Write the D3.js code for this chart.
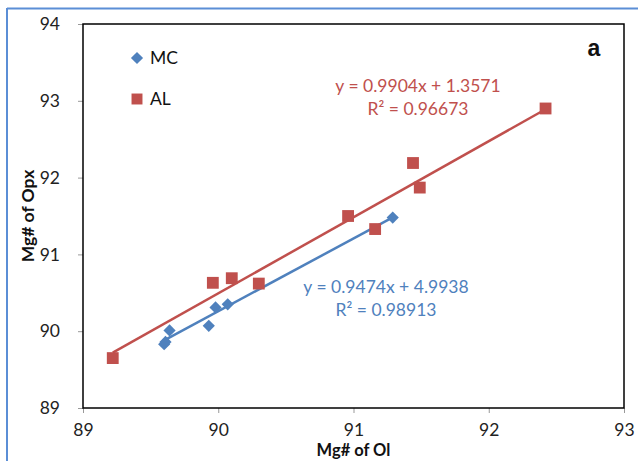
<!DOCTYPE html>
<html>
<head>
<meta charset="utf-8">
<script src="https://cdn.jsdelivr.net/npm/d3@7"></script>
<style>
  html, body { margin: 0; padding: 0; background: #fff; }
  svg { display: block; }
  text { font-family: Lato, "Liberation Sans", sans-serif; }
</style>
</head>
<body>
<svg id="chart" width="638" height="461"></svg>
<script>
// ---- data ----
const seriesNames = ["MC", "AL"];
const mcOl  = [89.60, 89.61, 89.64, 89.93, 89.98, 90.07, 91.29];
const mcOpx = [89.83, 89.86, 90.01, 90.07, 90.31, 90.35, 91.48];
const alOl  = [89.22, 89.96, 90.10, 90.30, 90.96, 91.16, 91.44, 91.49, 92.42];
const alOpx = [89.65, 90.63, 90.69, 90.62, 91.50, 91.33, 92.19, 91.87, 92.90];
const mcFit = [0.9474, 4.9938]; // slope, intercept
const alFit = [0.9904, 1.3571];
const mcEq = ["y = 0.9474x + 4.9938", "R² = 0.98913"];
const alEq = ["y = 0.9904x + 1.3571", "R² = 0.96673"];
const xTicks = [89, 90, 91, 92, 93];
const yTicks = [89, 90, 91, 92, 93, 94];
const xTitle = "Mg# of Ol";
const yTitle = "Mg# of Opx";
const panelLabel = "a";

const colors = { MC: "#4F81BD", AL: "#C0504D" };

const W = 638, H = 461;
const margin = { left: 83, top: 24, right: 14, bottom: 53 };
const svg = d3.select("#chart");

// outer frame
svg.append("line").attr("x1", 7).attr("x2", W).attr("y1", 8.5).attr("y2", 8.5)
  .attr("stroke", "#5b8ed6").attr("stroke-width", 2);
svg.append("line").attr("x1", 7).attr("x2", 7).attr("y1", 8).attr("y2", H)
  .attr("stroke", "#5b8ed6").attr("stroke-width", 2);

const x = d3.scaleLinear().domain([89, 93]).range([margin.left, W - margin.right]);
const y = d3.scaleLinear().domain([89, 94]).range([H - margin.bottom, margin.top]);

// axes
const xAxis = d3.axisBottom(x).tickValues(xTicks).tickFormat(d3.format("d")).tickSize(5).tickPadding(11);
const yAxis = d3.axisLeft(y).tickValues(yTicks).tickFormat(d3.format("d")).tickSize(5).tickPadding(18);

const gx = svg.append("g").attr("transform", `translate(0,${H - margin.bottom})`).call(xAxis);
const gy = svg.append("g").attr("transform", `translate(${margin.left},0)`).call(yAxis);
[gx, gy].forEach(g => {
  g.select(".domain").remove();
  g.selectAll(".tick line").attr("stroke", "#999");
  g.selectAll(".tick text").attr("fill", "#222").style("font-size", "17.5px")
    .style("font-family", "Lato, 'Liberation Sans', sans-serif");
});

// plot box
svg.append("rect")
  .attr("x", x(89)).attr("y", y(94))
  .attr("width", x(93) - x(89)).attr("height", y(89) - y(94))
  .attr("fill", "none").attr("stroke", "#000").attr("stroke-width", 1.5);

// trendlines
function fitLine(xs, fit, color) {
  const x0 = d3.min(xs), x1 = d3.max(xs);
  svg.append("line")
    .attr("x1", x(x0)).attr("y1", y(fit[0] * x0 + fit[1]))
    .attr("x2", x(x1)).attr("y2", y(fit[0] * x1 + fit[1]))
    .attr("stroke", color).attr("stroke-width", 2.5);
}
fitLine(alOl, alFit, colors.AL);
fitLine(mcOl, mcFit, colors.MC);

// markers
const diamond = d3.symbol().type(d3.symbolDiamond2).size(95);
const square = d3.symbol().type(d3.symbolSquare).size(140);

svg.append("g").selectAll("path").data(alOl.map((v, i) => [v, alOpx[i]])).join("path")
  .attr("d", square).attr("fill", colors.AL)
  .attr("transform", d => `translate(${x(d[0])},${y(d[1])})`);
svg.append("g").selectAll("path").data(mcOl.map((v, i) => [v, mcOpx[i]])).join("path")
  .attr("d", diamond).attr("fill", colors.MC)
  .attr("transform", d => `translate(${x(d[0])},${y(d[1])})`);

// legend
const leg = svg.append("g");
const legY = [58, 99];
seriesNames.forEach((name, i) => {
  leg.append("path")
    .attr("d", name === "MC" ? diamond : d3.symbol().type(d3.symbolSquare).size(120))
    .attr("fill", colors[name])
    .attr("transform", `translate(137,${legY[i]})`);
  leg.append("text").attr("x", 150).attr("y", legY[i] + 6)
    .style("font-size", "17.5px").attr("fill", "#111").text(name);
});

// equations
function eq(lines, cx, by, color) {
  lines.forEach((t, i) => {
    svg.append("text").attr("x", cx).attr("y", by + i * 23)
      .attr("text-anchor", "middle").style("font-size", "17.5px")
      .attr("fill", color).text(t);
  });
}
eq(alEq, 418, 92, colors.AL);
eq(mcEq, 386, 293, colors.MC);

// panel label
svg.append("text").attr("x", 594).attr("y", 56).attr("text-anchor", "middle")
  .style("font-family", "'Liberation Sans', Arial, sans-serif")
  .style("font-size", "23px").style("font-weight", "bold").attr("fill", "#111").text(panelLabel);

// axis titles
svg.append("text").attr("x", (x(89) + x(93)) / 2).attr("y", 456)
  .attr("text-anchor", "middle").style("font-size", "16.5px").style("font-weight", "bold")
  .attr("fill", "#111").text(xTitle);
svg.append("text").attr("transform", `translate(34,${(y(89) + y(94)) / 2}) rotate(-90)`)
  .attr("text-anchor", "middle").style("font-size", "17.5px").style("font-weight", "bold")
  .attr("fill", "#111").text(yTitle);
</script>
</body>
</html>
